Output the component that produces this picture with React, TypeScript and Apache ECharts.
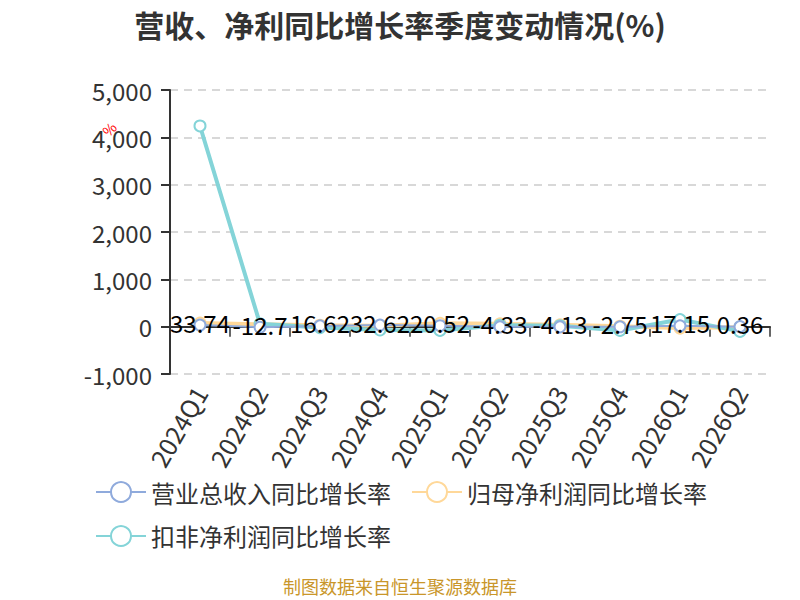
import React, { useEffect, useRef } from "react";
import * as echarts from "echarts";

const categories = ["2024Q1", "2024Q2", "2024Q3", "2024Q4", "2025Q1", "2025Q2", "2025Q3", "2025Q4", "2026Q1", "2026Q2"];
const revenueGrowth = [33.74, -12.7, 16.62, 32.62, 20.52, -4.33, -4.13, -2.75, 17.15, 0.36];
const netProfitGrowth = [75, 50, 30, 20, 70, 60, 40, 10, -30, -10];
const deductedProfitGrowth = [4240, 60, -20, -70, -80, 30, 20, -80, 150, -100];
const seriesNames = ["营业总收入同比增长率", "归母净利润同比增长率", "扣非净利润同比增长率"];
const colors = ["#8FAADC", "#FFD899", "#84D4D8"];

const FONT = "'Noto Sans CJK SC', 'Noto Sans', sans-serif";

export default function App() {
  const ref = useRef<HTMLDivElement>(null);
  useEffect(() => {
    if (!ref.current) return;
    const chart = echarts.init(ref.current, null, { renderer: "svg" });
    chart.setOption({
      animation: false,
      textStyle: { fontFamily: FONT },
      title: {
        text: "营收、净利同比增长率季度变动情况(%)",
        left: "center",
        top: 4,
        textStyle: { fontSize: 30, fontWeight: "bold", color: "#333", fontFamily: FONT },
      },
      color: colors,
      grid: { left: 170, right: 30, top: 90, bottom: 226 },
      legend: {
        data: seriesNames,
        left: 90,
        top: 475,
        width: 640,
        itemWidth: 50,
        itemHeight: 25,
        itemGap: 20,
        textStyle: { fontSize: 24, color: "#333", fontFamily: FONT },
      },
      xAxis: [
        {
          type: "category",
          data: categories,
          axisLine: { onZero: true, lineStyle: { color: "#333", width: 2 } },
          axisTick: { show: true, length: 10, lineStyle: { color: "#333", width: 1.5 } },
          axisLabel: { show: false },
        },
        {
          type: "category",
          data: categories,
          position: "bottom",
          axisLine: { show: false, onZero: false },
          axisTick: { show: false },
          axisLabel: { rotate: 60, fontSize: 25, color: "#333", margin: 14, fontFamily: FONT },
        },
      ],
      yAxis: {
        type: "value",
        min: -1000,
        max: 5000,
        interval: 1000,
        axisLine: { show: true, lineStyle: { color: "#333", width: 2 } },
        axisTick: { show: true, length: 9, lineStyle: { color: "#333", width: 2 } },
        axisLabel: { fontSize: 24, color: "#333", margin: 18, fontFamily: FONT },
        splitLine: { lineStyle: { type: [8, 6], color: "#ccc", width: 1.5 } },
      },
      series: [
        {
          name: seriesNames[0],
          type: "line",
          data: revenueGrowth,
          symbol: "emptyCircle",
          symbolSize: 11,
          lineStyle: { width: 2, color: colors[0] },
          itemStyle: { color: colors[0], borderWidth: 2 },
          label: {
            show: true,
            position: "inside",
            offset: [0, -3],
            fontSize: 24,
            color: "#000",
            fontFamily: FONT,
          },
          z: 5,
        },
        {
          name: seriesNames[1],
          type: "line",
          data: netProfitGrowth,
          symbol: "emptyCircle",
          symbolSize: 11,
          lineStyle: { width: 4, color: colors[1] },
          itemStyle: { color: colors[1], borderWidth: 2 },
          z: 3,
        },
        {
          name: seriesNames[2],
          type: "line",
          data: deductedProfitGrowth,
          symbol: "emptyCircle",
          symbolSize: 11,
          lineStyle: { width: 4, color: colors[2] },
          itemStyle: { color: colors[2], borderWidth: 2 },
          z: 4,
        },
      ],
      graphic: [
        {
          type: "text",
          x: 109,
          y: 129,
          rotation: Math.PI / 4,
          style: {
            text: "%",
            fill: "#ff0000",
            fontSize: 14,
            fontFamily: FONT,
            align: "center",
            verticalAlign: "middle",
          },
          z: 100,
        },
        {
          type: "text",
          left: "center",
          top: 577,
          style: {
            text: "制图数据来自恒生聚源数据库",
            fill: "#C9962A",
            fontSize: 18,
            fontFamily: FONT,
          },
        },
      ],
    });
    return () => chart.dispose();
  }, []);
  return (
    <div
      ref={ref}
      style={{ position: "fixed", left: 0, top: 0, width: 800, height: 600, background: "#fff" }}
    />
  );
}
